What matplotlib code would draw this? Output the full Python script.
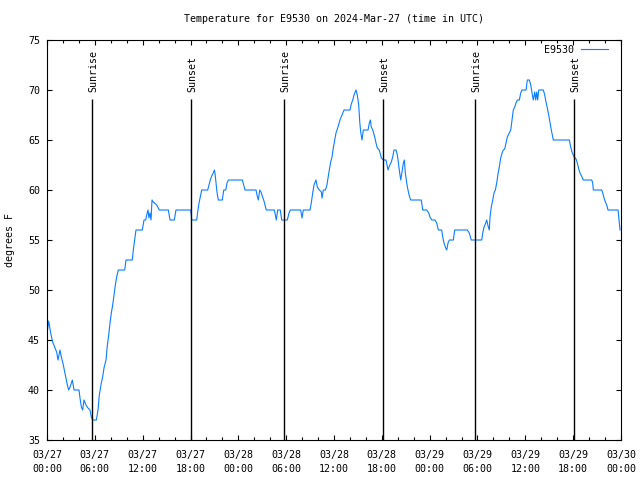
import matplotlib
matplotlib.use("Agg")
import matplotlib.pyplot as plt
from matplotlib.ticker import MultipleLocator

# Hours since 03/27 00:00 UTC and temperature (degrees F)
hours = [0.00, 0.21, 0.46, 0.71, 0.96, 1.21, 1.38, 1.63, 1.80, 2.05, 2.22, 2.38, 2.55, 2.72, 2.89,
         3.18, 3.39, 4.01, 4.14, 4.31, 4.47, 4.64, 4.89, 5.14, 5.39, 5.56, 5.73, 6.19, 6.40, 6.56,
         6.81, 6.98, 7.15, 7.40, 7.56, 7.74, 7.90, 8.07, 8.24, 8.40, 8.57, 8.74, 8.94, 9.75, 9.91,
         10.70, 10.83, 11.00, 11.16, 11.95, 12.17, 12.38, 12.51, 12.67, 12.79, 12.92, 13.05, 13.17,
         13.33, 13.76, 14.09, 15.22, 15.43, 15.97, 16.18, 18.03, 18.15, 18.78, 18.90, 19.07, 19.23,
         19.41, 20.16, 20.32, 20.48, 20.66, 20.86, 20.99, 21.07, 21.20, 21.32, 21.49, 21.99, 22.17,
         22.42, 22.58, 22.74, 24.50, 24.67, 24.84, 26.22, 26.34, 26.51, 26.68, 26.84, 27.00, 27.18,
         27.35, 27.51, 28.51, 28.60, 28.76, 28.94, 29.26, 29.44, 30.14, 30.36, 30.52, 31.82, 31.99,
         32.15, 32.99, 33.15, 33.33, 33.49, 33.74, 33.91, 34.16, 34.41, 34.50, 34.66, 34.91, 35.09,
         35.25, 35.41, 35.59, 35.75, 35.91, 36.09, 36.25, 36.50, 36.75, 37.00, 37.26, 38.01, 38.17,
         38.35, 38.51, 38.76, 38.92, 39.10, 39.23, 39.35, 39.51, 39.68, 40.27, 40.43, 40.56, 40.68,
         40.86, 41.11, 41.27, 41.43, 41.68, 41.94, 42.19, 42.52, 42.78, 42.94, 43.19, 43.36, 43.53,
         43.78, 43.94, 44.07, 44.19, 44.37, 44.53, 44.70, 44.82, 44.95, 45.12, 45.28, 45.45, 45.62,
         46.95, 47.13, 47.63, 47.88, 48.04, 48.26, 48.67, 48.88, 49.09, 49.51, 49.64, 49.80, 50.01,
         50.14, 50.30, 50.47, 50.97, 51.14, 52.72, 52.97, 53.22, 54.53, 54.66, 54.82, 54.98, 55.16,
         55.32, 55.48, 55.57, 55.73, 55.91, 56.07, 56.24, 56.41, 56.57, 56.74, 56.91, 57.08, 57.24,
         57.41, 57.58, 57.74, 57.99, 58.17, 58.33, 58.49, 58.67, 58.83, 59.00, 59.25, 59.42, 59.58,
         60.09, 60.25, 60.50, 60.68, 60.84, 61.00, 61.18, 61.30, 61.43, 61.55, 61.68, 62.26, 62.43,
         62.59, 62.76, 62.93, 63.10, 63.26, 63.44, 63.51, 65.52, 65.69, 65.86, 66.11, 66.36, 66.52,
         66.70, 66.86, 67.11, 67.27, 68.33, 68.45, 68.53, 69.58, 69.71, 69.87, 70.04, 70.21, 70.37,
         71.63, 71.72, 71.79, 71.88]
temps = [45.6, 46.9, 45.7, 44.8, 44.3, 43.8, 43.0, 44.0, 43.3, 42.5, 41.8, 41.2, 40.5, 40.0, 40.3,
         41.0, 40.0, 40.0, 39.2, 38.3, 38.0, 39.0, 38.5, 38.2, 38.0, 37.3, 37.0, 37.0, 38.0, 39.5,
         40.7, 41.3, 42.2, 43.0, 44.4, 45.5, 46.7, 47.7, 48.5, 49.5, 50.5, 51.3, 52.0, 52.0, 53.0,
         53.0, 54.0, 55.0, 56.0, 56.0, 57.0, 57.0, 57.5, 58.0, 57.2, 57.7, 57.0, 59.0,
         58.8, 58.5, 58.0, 58.0, 57.0, 57.0, 58.0, 58.0, 57.0, 57.0, 57.8, 58.7, 59.3,
         60.0, 60.0, 60.5, 61.0, 61.4, 61.7, 62.0, 61.7, 60.7, 59.8, 59.0, 59.0, 60.0,
         60.0, 60.7, 61.0, 61.0, 60.5, 60.0, 60.0, 59.5, 59.0, 60.0, 59.8, 59.4, 59.0,
         58.5, 58.0, 58.0, 57.7, 57.0, 58.0, 58.0, 57.0, 57.0, 57.7, 58.0, 58.0, 57.2,
         58.0, 58.0, 58.7, 59.7, 60.5, 61.0, 60.3, 60.0, 59.8, 59.2, 60.0, 60.0, 60.4,
         61.2, 62.0, 62.8, 63.3, 64.2, 65.0, 65.7, 66.3, 67.0, 67.5, 68.0, 68.0, 68.6,
         69.0, 69.5, 70.0, 69.5, 68.5, 66.8, 65.8, 65.0, 66.0, 66.0, 66.7, 67.0, 66.3,
         66.0, 65.3, 64.7, 64.2, 64.0, 63.2, 63.0, 63.0, 62.0, 62.4, 62.8, 63.3, 64.0,
         64.0, 63.5, 62.8, 62.0, 61.0, 61.8, 62.7, 63.0, 61.7, 60.7, 60.0, 59.4, 59.0,
         59.0, 58.0, 58.0, 57.7, 57.3, 57.0, 57.0, 56.7, 56.0, 56.0, 55.3, 54.7, 54.2,
         54.0, 54.7, 55.0, 55.0, 56.0, 56.0, 55.7, 55.0, 55.0, 55.7, 56.3, 56.6, 57.0,
         56.4, 56.0, 57.3, 58.3, 59.0, 59.7, 60.0, 60.7, 61.6, 62.3, 63.2, 63.7, 64.0,
         64.1, 64.7, 65.3, 65.7, 66.0, 67.0, 68.0, 68.3, 68.7, 69.0, 69.0, 69.7, 70.0,
         70.0, 71.0, 71.0, 70.5, 69.7, 69.0, 69.8, 69.0, 69.8, 69.0, 70.0, 70.0, 69.5,
         68.8, 68.2, 67.5, 66.7, 66.0, 65.3, 65.0, 65.0, 64.3, 63.8, 63.3, 63.1, 62.7,
         62.1, 61.7, 61.3, 61.0, 61.0, 60.7, 60.0, 60.0, 59.7, 59.2, 58.8, 58.5, 58.0,
         58.0, 57.3, 56.7, 56.0]

# Sunrise / sunset times (hours since 03/27 00:00 UTC)
sun_events = [5.68, 18.10, 29.77, 42.19, 53.73, 66.15]
sun_labels = ["Sunrise", "Sunset", "Sunrise", "Sunset", "Sunrise", "Sunset"]

# x tick labels, every 6 hours
tick_hours = [0, 6, 12, 18, 24, 30, 36, 42, 48, 54, 60, 66, 72]
tick_labels = ["03/27\n00:00", "03/27\n06:00", "03/27\n12:00", "03/27\n18:00",
               "03/28\n00:00", "03/28\n06:00", "03/28\n12:00", "03/28\n18:00",
               "03/29\n00:00", "03/29\n06:00", "03/29\n12:00", "03/29\n18:00",
               "03/30\n00:00"]

plt.rcParams['font.family'] = ['DejaVu Sans Mono']
plt.rcParams['font.size'] = 7.2

fig = plt.figure(figsize=(6.4, 4.8), dpi=100)
ax = fig.add_axes([47/640, 1 - 440/480, 574/640, 400/480])

ax.plot(hours, temps, color='#0a7dff', lw=0.8, label='E9530')

# sunrise / sunset markers
for x, lab in zip(sun_events, sun_labels):
	ax.vlines(x, 35, 69.1, color='black', lw=1.0)
	ax.text(x + 0.12, 69.8, lab, rotation=90, ha='center', va='bottom')

ax.set_xlim(0, 72)
ax.set_ylim(35, 75)
ax.set_xticks(tick_hours)
ax.set_xticklabels(tick_labels, linespacing=1.45)
ax.xaxis.set_minor_locator(MultipleLocator(2))
ax.yaxis.set_major_locator(MultipleLocator(5))
ax.tick_params(which='both', direction='in', top=True, right=True, width=0.8)
ax.tick_params(which='major', length=3.5)
ax.tick_params(which='minor', length=2.0)
ax.tick_params(axis='x', pad=7.5)
ax.tick_params(axis='y', pad=5)
for s in ax.spines.values():
	s.set_linewidth(0.8)

ax.set_title('Temperature for E9530 on 2024-Mar-27 (time in UTC)', pad=13, fontsize=7.2)
fig.text(10/640, 0.5, 'degrees F', rotation=90, ha='center', va='center')

ax.legend(loc='upper right', bbox_to_anchor=(0.986, 1.0), frameon=False, markerfirst=False,
	handlelength=2.7, handletextpad=0.7, borderaxespad=0.2, borderpad=0.3)

fig.savefig('out.png', dpi=100)
